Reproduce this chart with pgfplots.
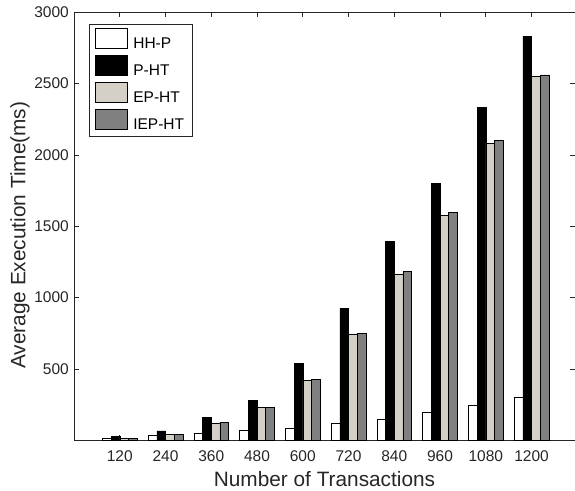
\documentclass[border=0pt]{standalone}
\usepackage{fontspec}
\setmainfont{Liberation Sans}
\usepackage{pgfplots}
\pgfplotsset{compat=1.18}
\definecolor{axgray}{RGB}{38,38,38}
\definecolor{lightg}{RGB}{212,208,200}
\definecolor{darkg}{RGB}{128,128,128}
\pgfplotsset{mylegend/.style={legend image code/.code={\draw[##1, line width=0.5pt] (0pt,-4.5pt) rectangle (32pt,15.5pt);}}}
\begin{document}
\begin{tikzpicture}
\begin{axis}[name=ax, scale only axis, width=501pt, height=428.5pt,
  ybar=0pt, bar width=8.7pt,
  xmin=0, xmax=10.95, ymin=0, ymax=3000,
  xtick={1,2,3,4,5,6,7,8,9,10},
  xticklabels={120,240,360,480,600,720,840,960,1080,1200},
  ytick={500,1000,1500,2000,2500,3000},
  scaled y ticks=false,
  /pgf/number format/1000 sep={},
  /pgf/number format/assume math mode=true,
  tick align=inside, major tick length=5pt,
  axis line style={axgray, line width=0.6pt},
  tick style={axgray, line width=0.6pt},
  ticklabel style={font=\fontsize{15.5}{18}\selectfont, text=axgray},
  xticklabel style={inner sep=0pt, yshift=-9.5pt},
  yticklabel style={inner sep=0pt, xshift=-5pt},
  xlabel={Number of Transactions},
  ylabel={Average Execution Time(ms)},
  every axis x label/.style={at={(axis description cs:0.5,-0.0723)}, anchor=north, inner sep=0pt, font=\fontsize{20.8}{24}\selectfont, text=axgray},
  every axis y label/.style={at={(axis description cs:-0.1277,0.479)}, rotate=90, anchor=north, inner sep=0pt, font=\fontsize{20.8}{24}\selectfont, text=axgray},
  legend style={at={(0.029,0.972)}, anchor=north west, draw=axgray, line width=0.6pt,
    font=\fontsize{15.5}{18}\selectfont, text=black, inner xsep=6pt, inner ysep=4pt,
    row sep=3pt, cells={anchor=west},
    /tikz/every odd column/.append style={column sep=4pt}},
  legend cell align=left,
]
\addplot[fill=white, draw=black, line width=0.5pt, mylegend] coordinates {(1,15) (2,37) (3,52) (4,71) (5,85) (6,120) (7,151) (8,198) (9,244) (10,300)};
\addplot[fill=black, draw=black, line width=0.5pt, mylegend] coordinates {(1,31) (2,67) (3,160) (4,279) (5,541) (6,926) (7,1393) (8,1802) (9,2332) (10,2829)};
\addplot[fill=lightg, draw=black, line width=0.5pt, mylegend] coordinates {(1,15) (2,44) (3,123) (4,232) (5,422) (6,746) (7,1167) (8,1575) (9,2082) (10,2549)};
\addplot[fill=darkg, draw=black, line width=0.5pt, mylegend] coordinates {(1,15) (2,44) (3,127) (4,232) (5,429) (6,751) (7,1183) (8,1597) (9,2103) (10,2559)};
\legend{HH-P,P-HT,EP-HT,IEP-HT}
\end{axis}
\pgfresetboundingbox
\path[use as bounding box] ([xshift=-74pt,yshift=-50.5pt]ax.south west) rectangle ([yshift=12pt]ax.north east);
\end{tikzpicture}
\end{document}
